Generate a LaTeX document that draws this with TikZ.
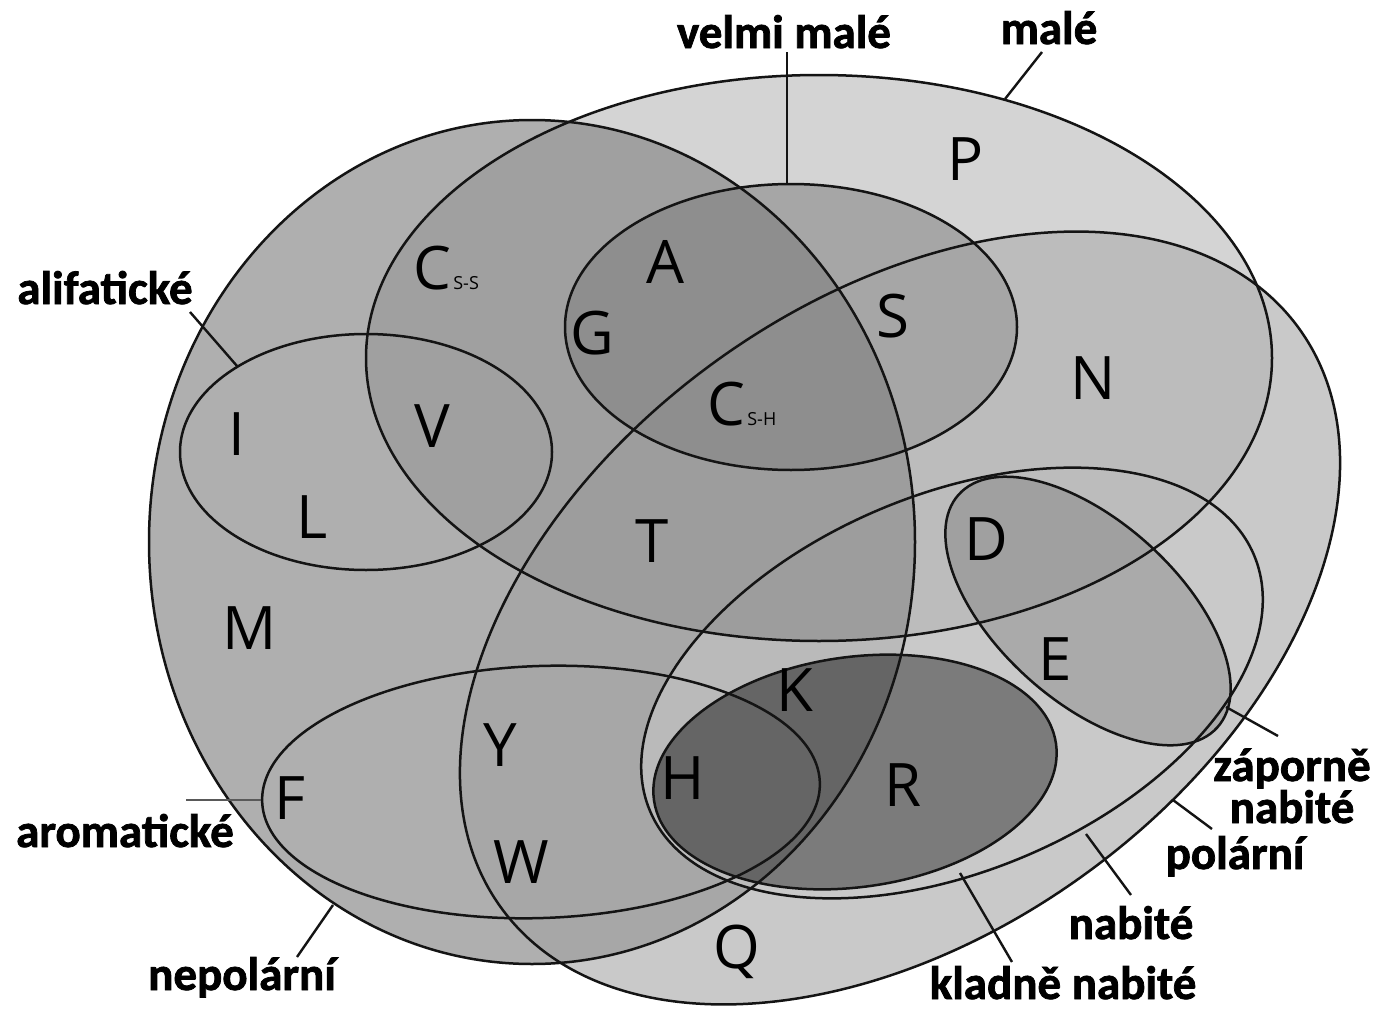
\documentclass[tikz,border=0pt]{standalone}
\usepackage{fontspec}
\setmainfont{Carlito}[BoldFeatures={FakeBold=1.6}]
\newfontfamily\aafont{Open Sans}
\definecolor{cMA}{HTML}{D4D4D4}
\definecolor{cPO}{HTML}{C9C9C9}
\definecolor{cMAPO}{HTML}{BCBCBC}
\definecolor{cNP}{HTML}{AFAFAF}
\definecolor{cNPPO}{HTML}{A7A7A7}
\definecolor{cNPNB}{HTML}{BABABA}
\definecolor{cNPMA}{HTML}{A0A0A0}
\definecolor{cNPMAPO}{HTML}{9D9D9D}
\definecolor{cVM}{HTML}{A6A6A6}
\definecolor{cVMNP}{HTML}{8E8E8E}
\definecolor{cZA}{HTML}{AAAAAA}
\definecolor{cZAMA}{HTML}{A0A0A0}
\definecolor{cKL}{HTML}{7B7B7B}
\definecolor{cKLNP}{HTML}{656565}
\definecolor{ink}{HTML}{141414}
\newcommand\pMA[2]{#1[#2] (819,358) ellipse [x radius=453,y radius=283];}
\newcommand\pPO[2]{#1[#2,rotate around={36:(900,618)}] (900,618) ellipse [x radius=493,y radius=316];}
\newcommand\pNP[2]{#1[#2] (532,542) ellipse [x radius=383,y radius=422];}
\newcommand\pVM[2]{#1[#2] (791,327) ellipse [x radius=226,y radius=143];}
\newcommand\pAL[2]{#1[#2] (366,452) ellipse [x radius=186,y radius=118];}
\newcommand\pAR[2]{#1[#2,rotate around={2:(541,792)}] (541,792) ellipse [x radius=279,y radius=126];}
\newcommand\pNB[2]{#1[#2,rotate around={23:(952,683)}] (952,683) ellipse [x radius=328,y radius=188];}
\newcommand\pKL[2]{#1[#2,rotate around={8:(855,772)}] (855,772) ellipse [x radius=203,y radius=115];}
\newcommand\pZA[2]{#1[#2,rotate around={-42:(1088,611)}] (1088,611) ellipse [x radius=174,y radius=90];}
\begin{document}
\begin{tikzpicture}[x=1pt,y=-1pt]
\tikzset{
  outl/.style={draw=ink, line width=2.5pt},
  lbl/.style={font=\fontsize{47}{42}\selectfont\bfseries, inner sep=0pt, anchor=base},
  aa/.style={font=\aafont\fontsize{60}{60}\selectfont, inner sep=0pt},
  subs/.style={font=\aafont\fontsize{18}{18}\selectfont, inner sep=0pt, anchor=base west},
  leader/.style={draw=ink, line width=2.4pt},
  greyleader/.style={draw=black!65, line width=2.6pt}
}
\useasboundingbox (0,0) rectangle (1377,1009);
\fill[white] (0,0) rectangle (1377,1009);
% fills
\pMA{\fill}{cMA}
\pPO{\fill}{cPO}
\begin{scope}\pMA{\clip}{}\pPO{\fill}{cMAPO}\end{scope}
\pNP{\fill}{cNP}
\begin{scope}\pNP{\clip}{}\pPO{\fill}{cNPPO}\end{scope}
\begin{scope}\pNP{\clip}{}\pPO{\clip}{}\pNB{\fill}{cNPNB}\end{scope}
\begin{scope}\pNP{\clip}{}\pMA{\fill}{cNPMA}\end{scope}
\begin{scope}\pNP{\clip}{}\pPO{\clip}{}\pMA{\fill}{cNPMAPO}\end{scope}
\pVM{\fill}{cVM}
\begin{scope}\pNP{\clip}{}\pVM{\fill}{cVMNP}\end{scope}
\pZA{\fill}{cZA}
\begin{scope}\pMA{\clip}{}\pZA{\fill}{cZAMA}\end{scope}
\pKL{\fill}{cKL}
\begin{scope}\pNP{\clip}{}\pKL{\fill}{cKLNP}\end{scope}
% outlines
\pMA{\path}{outl}
\pPO{\path}{outl}
\pNP{\path}{outl}
\pVM{\path}{outl}
\pAL{\path}{outl}
\pAR{\path}{outl}
\pNB{\path}{outl}
\pKL{\path}{outl}
\pZA{\path}{outl}
% amino acid letters
\node[aa] (P) at (966,159) {P};
\node[aa] (A) at (665,262) {A};
\node[aa] (Cs) at (432,268) {C};
\node[subs] (Css) at ([xshift=2pt]Cs.base east) {S-S};
\node[aa] (G) at (592,333) {G};
\node[aa] (S) at (893,316) {S};
\node[aa] (N) at (1093,378) {N};
\node[aa] (I) at (237,434) {I};
\node[aa] (V) at (432,426) {V};
\node[aa] (Ch) at (726,404) {C};
\node[subs] (Csh) at ([xshift=2pt]Ch.base east) {S-H};
\node[aa] (L) at (312,517) {L};
\node[aa] (T) at (652,541) {T};
\node[aa] (D) at (986,539) {D};
\node[aa] (M) at (250,628) {M};
\node[aa] (E) at (1055,659) {E};
\node[aa] (K) at (795,690) {K};
\node[aa] (Y) at (500,745) {Y};
\node[aa] (H) at (683,778) {H};
\node[aa] (R) at (903,785) {R};
\node[aa] (F) at (290,798) {F};
\node[aa] (W) at (521,862) {W};
\node[aa, anchor=base] (Q) at (737,968) {Q};
% labels
\node[lbl] (lvm) at (784,48) {velmi malé};
\node[lbl] (lma) at (1049,44) {malé};
\node[lbl] (lal) at (105,304) {alifatické};
\node[lbl] (lar) at (125,847) {aromatické};
\node[lbl] (lnp) at (242,990) {nepolární};
\node[lbl] (lkl) at (1063,999) {kladně nabité};
\node[lbl] (lnb) at (1131,939) {nabité};
\node[lbl] (lpo) at (1235,869) {polární};
\node[lbl, align=center] (lza) at (1292,823) {záporně\\nabité};
% leader lines
\coordinate (vm1) at (787,52);   \coordinate (vm2) at (787,185);
\coordinate (ma1) at (1042,52);  \coordinate (ma2) at (1005,99);
\coordinate (al1) at (190,312);  \coordinate (al2) at (237,366);
\coordinate (ar1) at (186,800);  \coordinate (ar2) at (261,800);
\coordinate (np1) at (297,957);  \coordinate (np2) at (333,905);
\coordinate (kl1) at (1012,962); \coordinate (kl2) at (960,873);
\coordinate (nb1) at (1131,895); \coordinate (nb2) at (1086,834);
\coordinate (po1) at (1212,829); \coordinate (po2) at (1173,800);
\coordinate (za1) at (1278,736); \coordinate (za2) at (1226,707);
\draw[leader] (vm1) -- (vm2);
\draw[leader] (ma1) -- (ma2);
\draw[leader] (al1) -- (al2);
\draw[greyleader] (ar1) -- (ar2);
\draw[leader] (np1) -- (np2);
\draw[leader] (kl1) -- (kl2);
\draw[leader] (nb1) -- (nb2);
\draw[leader] (po1) -- (po2);
\draw[leader] (za1) -- (za2);
\end{tikzpicture}
\end{document}
